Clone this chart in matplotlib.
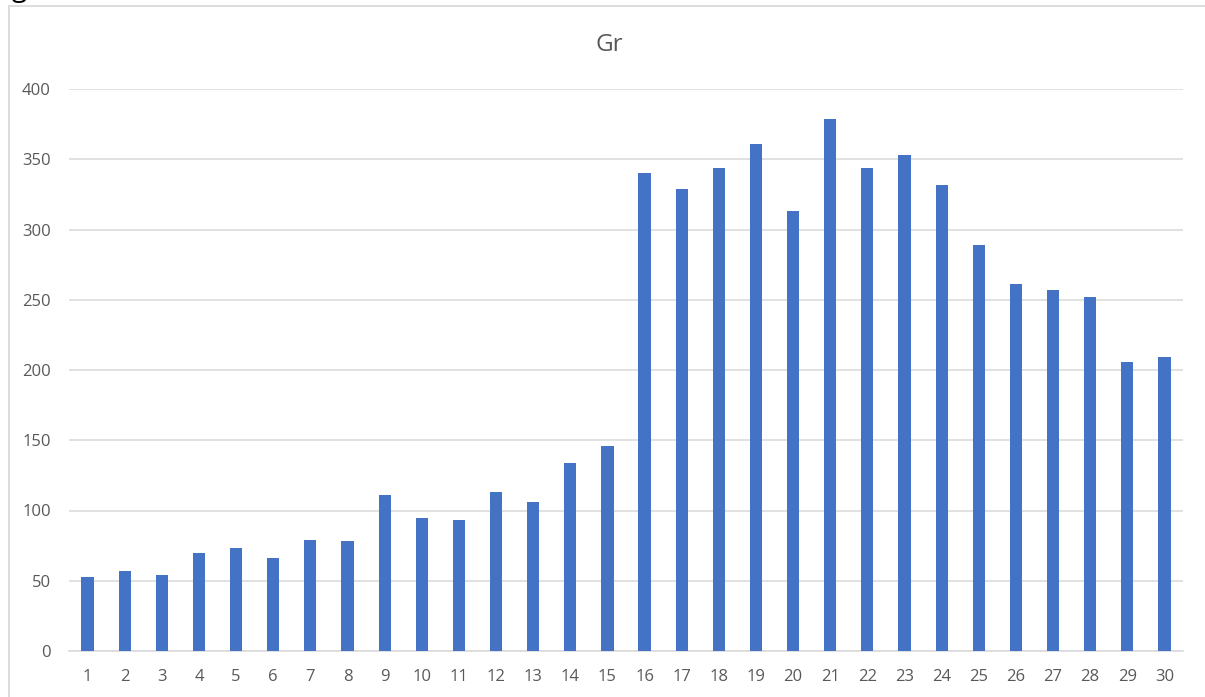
import matplotlib.pyplot as plt
from matplotlib.patches import Rectangle

# bar values
days = [str(i) for i in range(1, 31)]
values = [53, 57, 54, 70, 73, 66, 79, 78, 111, 95,
          93, 113, 106, 134, 146, 340, 329, 344, 361, 313,
          379, 344, 353, 332, 289, 261, 257, 252, 206, 209]
yticks = [0, 50, 100, 150, 200, 250, 300, 350, 400]

plt.rcParams['font.family'] = ['Open Sans', 'DejaVu Sans']


def main():
    fig = plt.figure(figsize=(12.05, 6.97), dpi=100)
    ax = fig.add_axes([69 / 1205, 1 - 651 / 697, (1183 - 69) / 1205, (651 - 89) / 697])

    # chart frame (cut on right and bottom like the screenshot)
    fig.patches.append(Rectangle((8.5 / 1205, -0.1), 1.2, 1 - 5.5 / 697 + 0.1,
                                 transform=fig.transFigure, fill=False,
                                 edgecolor='#d9d9d9', linewidth=1.3))
    # descender of text above the crop
    fig.text(12 / 1205, 1 + 4 / 697, 'g', fontsize=20, color='black', va='baseline')

    x = range(len(days))
    ax.bar(x, values, width=0.33, color='#4472C4', zorder=3)

    ax.set_xlim(-0.5, len(days) - 0.5)
    ax.set_ylim(0, 400)
    ax.set_yticks(yticks)
    ax.set_xticks(list(x))
    ax.set_xticklabels(days)
    ax.grid(axis='y', color='#d9d9d9', linewidth=1.1, zorder=0)
    ax.tick_params(axis='both', length=0, labelsize=12, labelcolor='#595959')
    ax.tick_params(axis='x', pad=13)
    ax.tick_params(axis='y', pad=13)
    for s in ['top', 'right', 'left']:
        ax.spines[s].set_visible(False)
    ax.spines['bottom'].set_color('#d9d9d9')
    ax.spines['bottom'].set_linewidth(1.1)

    fig.text(609 / 1205, 1 - 45 / 697, 'Gr', fontsize=17.5, color='#595959',
             ha='center', va='center')

    plt.savefig('out.png', dpi=100)


if __name__ == '__main__':
    main()
